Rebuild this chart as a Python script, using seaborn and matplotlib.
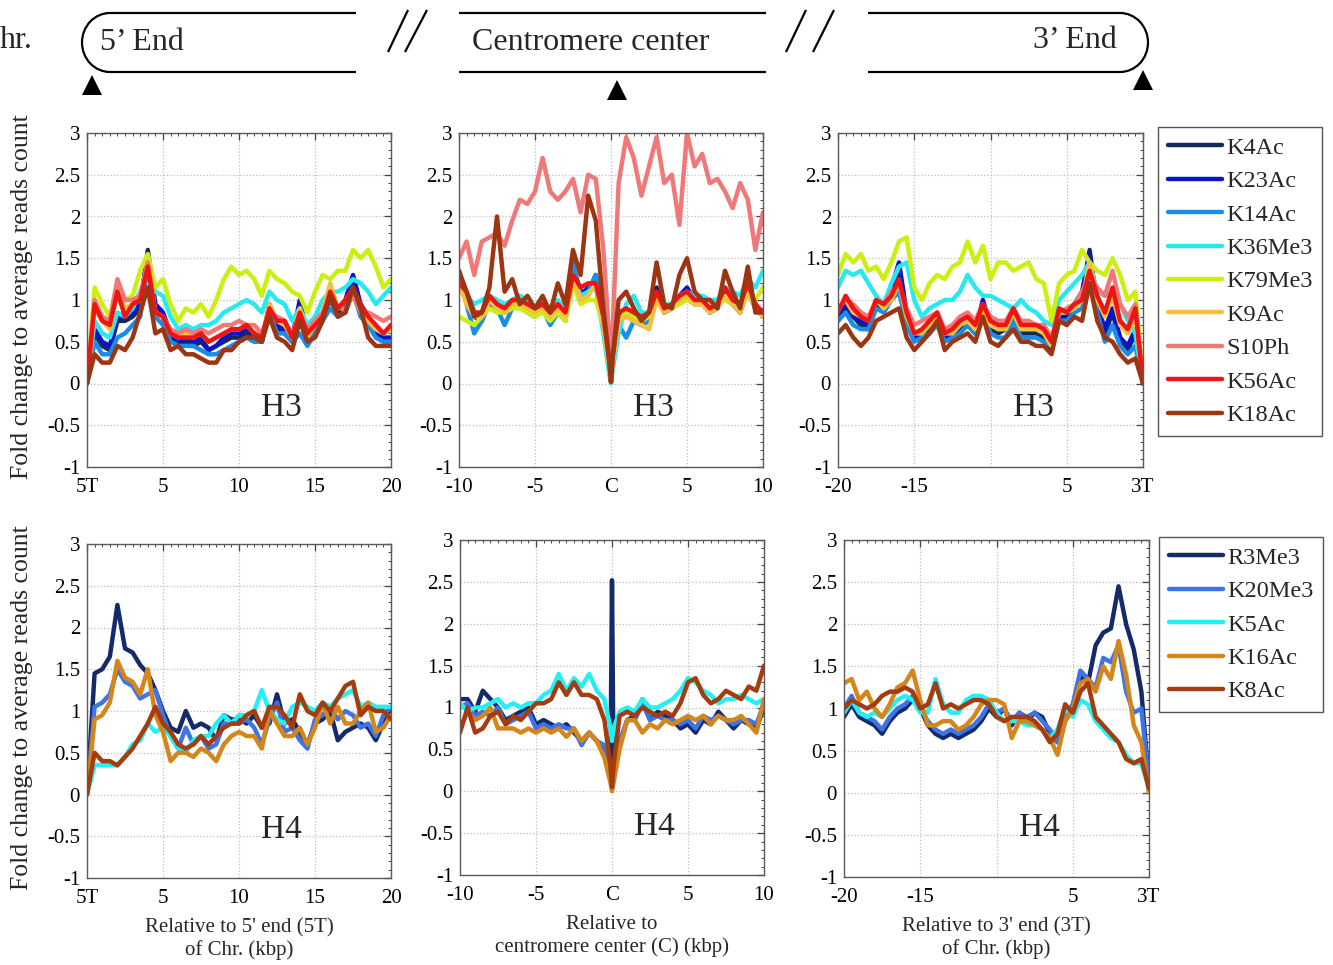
import numpy as np
import pandas as pd
import matplotlib
matplotlib.use("Agg")
import matplotlib.pyplot as plt
import seaborn as sns
from matplotlib.lines import Line2D
from matplotlib.patches import Arc
from matplotlib.ticker import MultipleLocator, FixedLocator, FuncFormatter

# ---------------------------------------------------------------------------
# Genomic positions (kbp) of the profile bins in each region
# ---------------------------------------------------------------------------
pos_5t = [0, 0.5, 1, 1.5, 2, 2.5, 3, 3.5, 4, 4.5, 5, 5.5, 6, 6.5, 7, 7.5, 8, 8.5, 9, 9.5,
          10, 10.5, 11, 11.5, 12, 12.5, 13, 13.5, 14, 14.5, 15, 15.5, 16, 16.5, 17, 17.5,
          18, 18.5, 19, 19.5, 20]
pos_cen = [-10, -9.5, -9, -8.5, -8, -7.5, -7, -6.5, -6, -5.5, -5, -4.5, -4, -3.5, -3, -2.5,
           -2, -1.5, -1, -0.5, -0.1, 0, 0.1, 0.5, 1, 1.5, 2, 2.5, 3, 3.5, 4, 4.5, 5, 5.5,
           6, 6.5, 7, 7.5, 8, 8.5, 9, 9.5, 10]
pos_3t = [-20, -19.5, -19, -18.5, -18, -17.5, -17, -16.5, -16, -15.5, -15, -14.5, -14, -13.5,
          -13, -12.5, -12, -11.5, -11, -10.5, -10, -9.5, -9, -8.5, -8, -7.5, -7, -6.5, -6,
          -5.5, -5, -4.5, -4, -3.5, -3, -2.5, -2, -1.5, -1, -0.5, 0]

h3_marks = ["K4Ac", "K23Ac", "K14Ac", "K36Me3", "K79Me3", "K9Ac", "S10Ph", "K56Ac", "K18Ac"]
h3_colors = ["#15285a", "#0a14c8", "#1a8ee6", "#28e8f0", "#ccee10",
             "#f4c040", "#f07878", "#ee1414", "#9b3512"]
h4_marks = ["R3Me3", "K20Me3", "K5Ac", "K16Ac", "K8Ac"]
h4_colors = ["#142a6a", "#3f74e6", "#22f0f2", "#d4861a", "#a43c10"]

# ---------------------------------------------------------------------------
# H3 fold change, 5' telomere region
# ---------------------------------------------------------------------------
h3_5t_k4ac = [0.0, 0.6, 0.45, 0.4, 0.75, 0.75, 0.8, 0.9, 1.6, 0.9, 0.8, 0.55, 0.5, 0.5, 0.45, 0.5,
              0.4, 0.45, 0.5, 0.55, 0.55, 0.6, 0.55, 0.5, 0.9, 0.65, 0.6, 0.5, 0.95, 0.5, 0.65,
              0.8, 1.0, 0.85, 0.95, 1.25, 0.9, 0.75, 0.6, 0.5, 0.5]
h3_5t_k23ac = [0.0, 0.65, 0.5, 0.45, 0.8, 0.8, 0.85, 0.95, 1.55, 0.95, 0.85, 0.6, 0.5, 0.55, 0.5,
               0.55, 0.4, 0.45, 0.55, 0.6, 0.6, 0.65, 0.6, 0.5, 0.95, 0.7, 0.65, 0.55, 1.0, 0.55,
               0.7, 0.85, 1.05, 0.9, 1.0, 1.3, 0.95, 0.8, 0.6, 0.55, 0.55]
h3_5t_k14ac = [0.0, 0.5, 0.35, 0.35, 0.55, 0.6, 0.7, 0.8, 1.4, 0.8, 0.7, 0.5, 0.45, 0.45, 0.45,
               0.4, 0.35, 0.35, 0.4, 0.45, 0.5, 0.55, 0.5, 0.5, 0.85, 0.6, 0.6, 0.5, 0.6, 0.45,
               0.6, 0.75, 0.9, 0.8, 0.85, 1.1, 0.8, 0.7, 0.55, 0.5, 0.5]
h3_5t_k36me3 = [0.0, 0.75, 0.6, 0.55, 0.85, 0.8, 0.9, 1.1, 1.35, 1.1, 1.05, 0.8, 0.65, 0.7, 0.65,
                0.7, 0.7, 0.75, 0.85, 0.9, 0.95, 1.0, 0.95, 0.85, 1.1, 1.0, 0.95, 0.75, 0.9, 0.7,
                0.8, 1.0, 1.1, 1.1, 1.15, 1.25, 1.2, 1.1, 0.95, 1.05, 1.15]
h3_5t_k79me3 = [0.0, 1.15, 0.95, 0.8, 1.2, 1.0, 1.05, 1.35, 1.55, 1.15, 1.25, 0.95, 0.75, 0.9,
                0.85, 0.95, 0.8, 1.0, 1.25, 1.4, 1.3, 1.35, 1.25, 1.05, 1.35, 1.25, 1.2, 1.1,
                1.05, 0.85, 1.1, 1.3, 1.25, 1.35, 1.35, 1.6, 1.5, 1.6, 1.4, 1.15, 1.25]
h3_5t_k9ac = [0.0, 0.9, 0.75, 0.65, 1.1, 0.9, 0.95, 1.0, 1.45, 0.85, 0.8, 0.6, 0.55, 0.6, 0.55,
              0.6, 0.5, 0.55, 0.6, 0.65, 0.65, 0.7, 0.6, 0.55, 0.95, 0.75, 0.7, 0.55, 0.9, 0.55,
              0.7, 0.85, 1.2, 0.9, 1.0, 1.1, 0.9, 0.75, 0.65, 0.6, 0.65]
h3_5t_s10ph = [0.0, 1.0, 0.8, 0.75, 1.25, 1.0, 1.0, 1.05, 1.45, 0.85, 0.8, 0.65, 0.6, 0.65, 0.6,
               0.65, 0.6, 0.65, 0.7, 0.7, 0.75, 0.7, 0.7, 0.6, 0.85, 0.8, 0.75, 0.6, 0.8, 0.65,
               0.75, 0.85, 1.0, 0.9, 0.9, 1.05, 0.85, 0.85, 0.8, 0.75, 0.8]
h3_5t_k56ac = [0.0, 0.95, 0.75, 0.7, 1.1, 0.8, 0.95, 1.0, 1.4, 0.85, 0.8, 0.6, 0.55, 0.55, 0.55,
               0.6, 0.5, 0.55, 0.6, 0.65, 0.65, 0.7, 0.6, 0.55, 0.9, 0.75, 0.75, 0.55, 0.85, 0.6,
               0.7, 0.8, 1.1, 0.9, 1.0, 1.15, 0.95, 0.8, 0.7, 0.6, 0.7]
h3_5t_k18ac = [0.0, 0.35, 0.25, 0.25, 0.45, 0.4, 0.55, 0.85, 1.15, 0.6, 0.65, 0.4, 0.45, 0.35,
               0.35, 0.3, 0.25, 0.25, 0.4, 0.4, 0.5, 0.55, 0.55, 0.5, 0.8, 0.55, 0.5, 0.4, 0.75,
               0.5, 0.55, 0.75, 1.05, 0.8, 0.85, 1.15, 0.9, 0.55, 0.45, 0.45, 0.45]

# ---------------------------------------------------------------------------
# H3 fold change, centromere region
# ---------------------------------------------------------------------------
h3_cen_k4ac = [1.3, 1.0, 0.8, 0.75, 1.0, 0.95, 0.85, 0.95, 1.0, 0.9, 0.85, 0.95, 0.75, 0.95,
               0.8, 1.4, 1.1, 1.1, 1.3, 0.7, 0.2, 0.02, 0.25, 0.75, 0.85, 0.75, 0.7, 0.75,
               1.15, 0.85, 0.9, 1.0, 1.1, 0.95, 1.0, 0.85, 0.9, 1.1, 0.95, 0.85, 1.15, 0.9, 0.85]
h3_cen_k23ac = [1.25, 1.05, 0.85, 0.8, 1.05, 0.95, 0.9, 0.9, 0.95, 0.9, 0.85, 0.9, 0.8, 0.9,
                0.85, 1.35, 1.05, 1.15, 1.25, 0.75, 0.2, 0.02, 0.25, 0.8, 0.9, 0.8, 0.75, 0.8,
                1.1, 0.9, 0.95, 1.05, 1.15, 1.0, 1.0, 0.9, 0.95, 1.1, 1.0, 0.9, 1.2, 0.95, 0.8]
h3_cen_k14ac = [1.35, 0.95, 0.6, 0.75, 0.95, 0.9, 0.7, 0.9, 0.95, 0.85, 0.8, 0.9, 0.7, 0.85,
                0.75, 1.45, 1.0, 1.1, 1.3, 0.65, 0.15, 0.02, 0.2, 0.7, 0.55, 0.75, 0.7, 0.75,
                1.05, 0.85, 0.9, 1.0, 1.05, 0.95, 0.95, 0.85, 0.9, 1.05, 0.95, 0.9, 1.1, 0.9, 0.85]
h3_cen_k36me3 = [1.3, 1.05, 0.95, 1.0, 1.05, 1.0, 0.95, 1.0, 1.05, 1.0, 0.9, 1.0, 0.9, 1.0,
                 0.9, 1.3, 1.05, 1.1, 1.15, 0.6, 0.1, 0.0, 0.15, 0.6, 0.95, 1.05, 0.85, 0.85,
                 1.05, 0.95, 0.95, 1.05, 1.1, 1.05, 1.05, 1.0, 1.0, 1.15, 1.1, 1.05, 1.25, 1.15, 1.35]
h3_cen_k79me3 = [0.8, 0.75, 0.7, 0.8, 0.9, 0.85, 0.85, 0.9, 0.9, 0.85, 0.8, 0.85, 0.75, 0.85,
                 0.75, 1.2, 0.95, 1.0, 1.0, 0.7, 0.2, 0.02, 0.25, 0.75, 0.85, 0.8, 0.75, 0.8,
                 1.0, 0.9, 0.9, 0.95, 1.0, 0.95, 0.95, 0.9, 0.95, 1.0, 0.95, 0.95, 1.1, 1.0, 1.15]
h3_cen_k9ac = [1.2, 0.95, 0.8, 0.8, 1.0, 0.9, 0.85, 0.95, 0.95, 0.9, 0.85, 0.9, 0.8, 0.9,
               0.8, 1.3, 1.0, 1.05, 1.2, 0.7, 0.2, 0.02, 0.25, 0.75, 0.8, 0.75, 0.7, 0.65,
               1.0, 0.85, 0.9, 1.0, 1.05, 0.95, 0.95, 0.85, 0.9, 1.05, 0.95, 0.85, 1.1, 0.9, 0.8]
h3_cen_s10ph = [1.5, 1.7, 1.3, 1.7, 1.75, 1.8, 1.65, 1.95, 2.2, 2.15, 2.3, 2.7, 2.3, 2.2,
                2.3, 2.45, 2.05, 2.5, 2.45, 1.6, 0.5, 0.1, 0.6, 2.4, 2.95, 2.7, 2.25, 2.6,
                2.95, 2.4, 2.5, 1.9, 3.0, 2.6, 2.75, 2.4, 2.45, 2.3, 2.1, 2.4, 2.2, 1.6, 2.05]
h3_cen_k56ac = [1.2, 1.1, 0.85, 0.85, 1.05, 0.95, 0.9, 1.0, 1.0, 0.95, 0.9, 0.95, 0.85, 0.95,
                0.85, 1.3, 1.15, 1.2, 1.2, 0.8, 0.25, 0.02, 0.3, 0.85, 0.9, 0.85, 0.8, 0.85,
                1.1, 0.9, 0.95, 1.05, 1.1, 1.0, 1.0, 0.9, 0.95, 1.15, 1.0, 0.95, 1.2, 0.95, 0.85]
h3_cen_k18ac = [1.35, 1.1, 0.8, 0.85, 1.15, 2.0, 1.1, 1.25, 0.95, 1.05, 0.9, 1.05, 0.85, 1.2,
                0.95, 1.6, 1.3, 2.25, 1.95, 0.9, 0.25, 0.02, 0.3, 1.0, 1.1, 0.9, 0.75, 0.85,
                1.45, 0.95, 0.9, 1.3, 1.5, 1.1, 1.0, 1.0, 0.9, 1.35, 1.1, 0.9, 1.4, 0.85, 0.85]

# ---------------------------------------------------------------------------
# H3 fold change, 3' telomere region
# ---------------------------------------------------------------------------
h3_3t_k4ac = [0.75, 0.9, 0.8, 0.7, 0.65, 0.95, 0.9, 1.1, 1.4, 0.8, 0.55, 0.6, 0.65, 0.75, 0.55,
              0.6, 0.65, 0.7, 0.6, 0.95, 0.65, 0.6, 0.65, 0.8, 0.6, 0.6, 0.6, 0.55, 0.4, 0.75,
              0.75, 0.9, 1.05, 1.6, 0.9, 0.6, 0.85, 0.5, 0.4, 0.6, 0.0]
h3_3t_k23ac = [0.8, 0.95, 0.8, 0.75, 0.7, 1.0, 0.95, 1.15, 1.45, 0.85, 0.55, 0.6, 0.7, 0.8, 0.55,
               0.6, 0.7, 0.75, 0.65, 1.0, 0.7, 0.65, 0.65, 0.85, 0.65, 0.65, 0.65, 0.6, 0.45,
               0.8, 0.8, 0.95, 1.1, 1.55, 0.95, 0.65, 0.9, 0.55, 0.45, 0.65, 0.0]
h3_3t_k14ac = [0.75, 0.85, 0.7, 0.65, 0.65, 0.9, 0.85, 1.0, 1.1, 0.7, 0.5, 0.55, 0.6, 0.7, 0.5,
               0.55, 0.6, 0.7, 0.6, 0.85, 0.6, 0.55, 0.55, 0.75, 0.55, 0.55, 0.55, 0.5, 0.45,
               0.75, 0.75, 0.85, 0.9, 1.2, 0.85, 0.5, 0.7, 0.45, 0.35, 0.45, 0.0]
h3_3t_k36me3 = [1.15, 1.35, 1.3, 1.35, 1.2, 1.05, 0.95, 1.2, 1.4, 1.45, 1.0, 0.8, 0.9, 0.95, 1.0,
                1.0, 1.1, 1.3, 1.15, 1.05, 1.05, 1.0, 0.95, 0.9, 1.0, 0.9, 0.85, 0.75, 0.7, 1.0,
                1.1, 1.2, 1.3, 1.45, 1.1, 1.05, 1.1, 0.95, 0.75, 0.6, 0.0]
h3_3t_k79me3 = [1.3, 1.55, 1.45, 1.55, 1.35, 1.4, 1.25, 1.45, 1.7, 1.75, 1.15, 1.0, 1.2, 1.3,
                1.25, 1.4, 1.45, 1.7, 1.45, 1.65, 1.25, 1.45, 1.45, 1.35, 1.4, 1.45, 1.25, 1.2,
                0.75, 1.2, 1.3, 1.35, 1.6, 1.45, 1.35, 1.3, 1.5, 1.3, 1.0, 1.1, 0.0]
h3_3t_k9ac = [0.9, 1.0, 0.85, 0.8, 0.75, 1.0, 0.9, 1.0, 1.2, 0.8, 0.6, 0.6, 0.7, 0.8, 0.6, 0.6,
              0.7, 0.75, 0.65, 0.9, 0.7, 0.65, 0.65, 0.85, 0.65, 0.65, 0.65, 0.6, 0.45, 0.85,
              0.85, 0.9, 1.0, 1.45, 1.0, 0.8, 1.05, 0.7, 0.6, 0.8, 0.0]
h3_3t_s10ph = [0.9, 1.0, 0.95, 0.85, 0.8, 1.0, 0.95, 1.1, 1.2, 0.9, 0.7, 0.75, 0.8, 0.85, 0.65,
               0.7, 0.8, 0.85, 0.75, 0.95, 0.8, 0.75, 0.75, 0.9, 0.75, 0.75, 0.7, 0.7, 0.55,
               0.85, 0.9, 0.95, 1.1, 1.3, 1.15, 1.05, 1.35, 0.95, 0.8, 0.95, 0.0]
h3_3t_k56ac = [0.85, 1.05, 0.9, 0.8, 0.75, 1.0, 0.95, 1.05, 1.25, 0.85, 0.6, 0.65, 0.75, 0.85,
               0.6, 0.65, 0.75, 0.8, 0.7, 0.95, 0.75, 0.7, 0.7, 0.9, 0.7, 0.7, 0.7, 0.65, 0.5,
               0.9, 0.85, 0.95, 1.0, 1.35, 1.05, 0.85, 1.15, 0.75, 0.65, 0.9, 0.0]
h3_3t_k18ac = [0.6, 0.7, 0.55, 0.45, 0.55, 0.75, 0.8, 0.85, 0.9, 0.55, 0.4, 0.5, 0.6, 0.75, 0.4,
               0.5, 0.55, 0.6, 0.5, 0.8, 0.5, 0.45, 0.55, 0.65, 0.5, 0.5, 0.45, 0.45, 0.35,
               0.75, 0.7, 0.8, 0.75, 1.2, 0.75, 0.55, 0.5, 0.35, 0.25, 0.3, 0.0]

# ---------------------------------------------------------------------------
# H4 fold change, 5' telomere region
# ---------------------------------------------------------------------------
h4_5t_r3me3 = [0.0, 1.45, 1.5, 1.65, 2.27, 1.75, 1.7, 1.55, 1.45, 1.25, 1.0, 0.8, 0.75, 1.0,
               0.8, 0.85, 0.8, 0.65, 0.95, 0.9, 0.9, 0.85, 0.95, 0.8, 0.85, 1.2, 0.85, 0.9,
               0.75, 0.6, 0.85, 0.9, 1.0, 0.65, 0.75, 0.8, 0.85, 0.8, 0.65, 0.85, 1.0]
h4_5t_k20me3 = [0.0, 1.05, 1.1, 1.2, 1.5, 1.35, 1.3, 1.15, 1.2, 1.25, 0.95, 0.7, 0.55, 0.8, 0.6,
                0.7, 0.55, 0.6, 0.85, 0.85, 0.85, 0.9, 0.8, 0.6, 0.9, 1.1, 0.75, 0.8, 0.65,
                0.55, 0.9, 0.95, 1.05, 0.9, 1.0, 0.95, 0.8, 0.85, 0.7, 0.95, 1.05]
h4_5t_k5ac = [0.0, 0.35, 0.35, 0.35, 0.35, 0.45, 0.6, 0.65, 0.85, 0.75, 0.8, 0.7, 0.55, 0.5,
              0.65, 0.7, 0.7, 0.85, 0.95, 0.85, 0.95, 0.95, 1.0, 1.25, 1.0, 0.9, 0.85, 1.05,
              1.1, 1.05, 1.0, 1.1, 1.05, 1.15, 1.2, 1.25, 1.05, 1.1, 1.05, 1.05, 1.05]
h4_5t_k16ac = [0.0, 0.9, 0.95, 1.1, 1.6, 1.4, 1.35, 1.2, 1.5, 0.95, 0.75, 0.4, 0.5, 0.5, 0.45,
               0.55, 0.5, 0.4, 0.6, 0.7, 0.75, 0.7, 0.7, 0.55, 1.0, 0.85, 0.7, 0.7, 0.8, 0.6,
               0.8, 1.1, 0.85, 1.05, 0.85, 0.85, 1.0, 1.1, 0.75, 0.8, 0.95]
h4_5t_k8ac = [0.0, 0.5, 0.4, 0.4, 0.35, 0.45, 0.55, 0.7, 0.85, 1.05, 0.85, 0.75, 0.6, 0.55, 0.6,
              0.7, 0.6, 0.7, 0.8, 0.85, 0.85, 0.95, 1.0, 0.8, 1.05, 1.05, 0.95, 0.8, 1.2, 1.0,
              0.95, 1.1, 1.0, 1.15, 1.3, 1.35, 0.95, 1.05, 1.0, 1.0, 0.9]

# ---------------------------------------------------------------------------
# H4 fold change, centromere region
# ---------------------------------------------------------------------------
h4_cen_r3me3 = [1.1, 1.1, 0.95, 1.2, 1.1, 1.0, 0.85, 0.9, 0.95, 1.0, 0.8, 0.85, 0.8, 0.75,
                0.8, 0.7, 0.6, 0.7, 0.6, 0.45, 0.3, 2.52, 0.3, 0.55, 0.85, 0.9, 1.1, 0.85,
                0.95, 0.9, 0.85, 0.75, 0.8, 0.7, 0.85, 0.8, 0.95, 0.85, 0.75, 0.85, 0.8, 0.75, 1.0]
h4_cen_k20me3 = [1.0, 1.05, 0.9, 0.95, 0.9, 1.0, 0.8, 0.85, 0.9, 0.95, 0.75, 0.8, 0.75, 0.8,
                 0.75, 0.75, 0.55, 0.7, 0.6, 0.55, 0.25, 0.2, 0.25, 0.6, 0.85, 0.85, 1.05, 0.85,
                 0.9, 0.85, 0.85, 0.8, 0.85, 0.75, 0.9, 0.85, 0.9, 0.85, 0.8, 0.85, 0.85, 0.8, 1.05]
h4_cen_k5ac = [1.05, 0.95, 1.0, 1.0, 1.05, 1.1, 1.0, 1.05, 1.0, 1.05, 1.05, 1.15, 1.2, 1.4,
               1.2, 1.35, 1.25, 1.4, 1.2, 1.1, 0.75, 0.6, 0.75, 0.95, 1.0, 0.95, 1.1, 1.0,
               1.0, 1.05, 1.1, 1.2, 1.35, 1.3, 1.2, 1.15, 1.05, 1.1, 1.1, 1.15, 1.1, 1.05, 1.1]
h4_cen_k16ac = [0.75, 0.95, 0.85, 0.9, 1.0, 0.75, 0.75, 0.75, 0.7, 0.75, 0.7, 0.75, 0.7, 0.75,
                0.65, 0.75, 0.6, 0.7, 0.6, 0.4, 0.1, 0.0, 0.1, 0.5, 0.85, 0.85, 0.7, 0.8,
                0.75, 0.85, 0.8, 0.85, 0.9, 0.85, 0.9, 0.8, 0.9, 0.85, 0.85, 0.9, 0.8, 0.7, 1.1]
h4_cen_k8ac = [0.7, 1.0, 0.7, 0.75, 0.9, 0.95, 0.8, 0.9, 0.85, 0.95, 1.05, 1.05, 1.1, 1.3,
               1.15, 1.3, 1.15, 1.15, 1.1, 0.85, 0.3, 0.05, 0.3, 0.9, 0.95, 0.9, 1.0, 0.95,
               0.9, 0.95, 0.9, 1.05, 1.3, 1.35, 1.15, 1.05, 1.1, 1.2, 1.15, 1.1, 1.25, 1.2, 1.5]

# ---------------------------------------------------------------------------
# H4 fold change, 3' telomere region
# ---------------------------------------------------------------------------
h4_3t_r3me3 = [0.9, 1.05, 0.9, 0.85, 0.8, 0.7, 0.85, 0.95, 1.0, 1.1, 1.0, 0.8, 0.7, 0.65, 0.7,
               0.65, 0.7, 0.75, 0.85, 1.0, 0.9, 1.0, 0.8, 0.95, 0.85, 0.95, 0.9, 0.7, 0.6, 0.85,
               1.0, 1.4, 1.3, 1.75, 1.9, 1.95, 2.45, 2.0, 1.7, 1.2, 0.1]
h4_3t_k20me3 = [1.0, 1.15, 0.95, 0.9, 0.85, 0.75, 0.9, 1.0, 1.05, 1.15, 1.0, 0.85, 0.75, 0.7,
                0.75, 0.7, 0.75, 0.8, 0.9, 1.05, 0.95, 1.0, 0.85, 0.95, 0.9, 0.95, 0.85, 0.75,
                0.6, 0.9, 1.05, 1.45, 1.35, 1.25, 1.6, 1.55, 1.75, 1.2, 0.95, 1.0, 0.1]
h4_3t_k5ac = [0.95, 1.1, 0.95, 0.9, 0.95, 0.9, 1.0, 1.1, 1.15, 1.1, 0.95, 0.95, 1.35, 1.05, 0.95,
              0.95, 1.1, 1.15, 1.15, 1.1, 0.95, 0.85, 0.85, 0.85, 0.8, 0.8, 0.75, 0.65, 0.75,
              1.0, 0.9, 1.1, 1.05, 0.85, 0.75, 0.65, 0.6, 0.45, 0.35, 0.35, 0.05]
h4_3t_k16ac = [1.3, 1.35, 1.1, 1.2, 1.0, 0.9, 1.05, 1.25, 1.3, 1.45, 1.1, 0.8, 0.8, 0.85, 0.85,
               0.75, 0.8, 0.9, 1.05, 1.1, 1.1, 1.05, 0.65, 0.85, 0.85, 0.8, 0.75, 0.65, 0.45,
               0.85, 1.0, 1.3, 1.35, 1.2, 1.5, 1.35, 1.8, 1.4, 0.8, 0.6, 0.0]
h4_3t_k8ac = [1.0, 1.1, 1.05, 1.0, 1.05, 1.15, 1.2, 1.2, 1.25, 1.2, 1.0, 1.05, 1.3, 1.0, 1.05,
              1.0, 1.05, 1.1, 1.1, 1.05, 0.9, 0.85, 0.9, 0.9, 0.9, 0.85, 0.75, 0.6, 0.7, 1.05,
              0.95, 1.2, 1.3, 0.9, 0.8, 0.7, 0.6, 0.4, 0.35, 0.4, 0.05]

# tick labels of the three regions
ticks_5t = [0, 5, 10, 15, 20]
labels_5t = ["5T", "5", "10", "15", "20"]
ticks_cen = [-10, -5, 0, 5, 10]
labels_cen = ["-10", "-5", "C", "5", "10"]
ticks_3t = [-20, -15, -10, -5, 0]
labels_3t = ["-20", "-15", "", "5", "3T"]


def long_frame(pos, marks, series):
    parts = []
    for mark, vals in zip(marks, series):
        if len(vals) != len(pos):
            raise ValueError(f"{mark}: {len(vals)} values for {len(pos)} positions")
        parts.append(pd.DataFrame({"pos": pos, "fold": vals, "mark": mark}))
    return pd.concat(parts, ignore_index=True)


sns.set_style("white")
plt.rcParams["font.family"] = ["Liberation Serif", "DejaVu Serif"]

W, H = 1333, 965
fig = plt.figure(figsize=(W / 100, H / 100), dpi=100)


def px_axes(x0, y0, x1, y1):
    return fig.add_axes([x0 / W, 1 - y1 / H, (x1 - x0) / W, (y1 - y0) / H])


panels = [
    # (axes box in px, positions, marks, colors, series, xlim, ticks, labels, histone, xlabel)
    ((87, 133, 391, 467), pos_5t, h3_marks, h3_colors,
     [h3_5t_k4ac, h3_5t_k23ac, h3_5t_k14ac, h3_5t_k36me3, h3_5t_k79me3, h3_5t_k9ac,
      h3_5t_s10ph, h3_5t_k56ac, h3_5t_k18ac], (0, 20), ticks_5t, labels_5t, "H3", None),
    ((459, 133, 763, 467), pos_cen, h3_marks, h3_colors,
     [h3_cen_k4ac, h3_cen_k23ac, h3_cen_k14ac, h3_cen_k36me3, h3_cen_k79me3, h3_cen_k9ac,
      h3_cen_s10ph, h3_cen_k56ac, h3_cen_k18ac], (-10, 10), ticks_cen, labels_cen, "H3", None),
    ((838, 133, 1143, 467), pos_3t, h3_marks, h3_colors,
     [h3_3t_k4ac, h3_3t_k23ac, h3_3t_k14ac, h3_3t_k36me3, h3_3t_k79me3, h3_3t_k9ac,
      h3_3t_s10ph, h3_3t_k56ac, h3_3t_k18ac], (-20, 0), ticks_3t, labels_3t, "H3", None),
    ((87, 544, 391, 878), pos_5t, h4_marks, h4_colors,
     [h4_5t_r3me3, h4_5t_k20me3, h4_5t_k5ac, h4_5t_k16ac, h4_5t_k8ac], (0, 20),
     ticks_5t, labels_5t, "H4", "Relative to 5' end (5T)\nof Chr. (kbp)"),
    ((460, 540, 764, 875), pos_cen, h4_marks, h4_colors,
     [h4_cen_r3me3, h4_cen_k20me3, h4_cen_k5ac, h4_cen_k16ac, h4_cen_k8ac], (-10, 10),
     ticks_cen, labels_cen, "H4", "Relative to\ncentromere center (C) (kbp)"),
    ((844, 540, 1149, 877), pos_3t, h4_marks, h4_colors,
     [h4_3t_r3me3, h4_3t_k20me3, h4_3t_k5ac, h4_3t_k16ac, h4_3t_k8ac], (-20, 0),
     ticks_3t, labels_3t, "H4", "Relative to 3' end (3T)\nof Chr. (kbp)"),
]

yticks = [-1, -0.5, 0, 0.5, 1, 1.5, 2, 2.5, 3]
axes = []
for i, (box, pos, marks, colors, series, xlim, ticks, labels, histone, xlabel) in enumerate(panels):
    ax = px_axes(*box)
    df = long_frame(pos, marks, series)
    sns.lineplot(data=df, x="pos", y="fold", hue="mark", hue_order=marks,
                 palette=colors, linewidth=3.2, estimator=None, sort=False,
                 legend=False, ax=ax)
    ax.set_xlim(*xlim)
    ax.set_ylim(-1, 3)
    ax.xaxis.set_major_locator(FixedLocator(ticks))
    ax.set_xticklabels(labels)
    ax.xaxis.set_minor_locator(MultipleLocator(0.5))
    ax.yaxis.set_major_locator(FixedLocator(yticks))
    ax.yaxis.set_major_formatter(FuncFormatter(lambda v, _: f"{v:g}"))
    ax.yaxis.set_minor_locator(MultipleLocator(0.1))
    ax.tick_params(which="both", direction="in", top=True, right=True,
                   colors="#444444", labelcolor="black", labelsize=15)
    ax.tick_params(which="major", length=5, width=0.9)
    ax.tick_params(which="minor", length=2.5, width=0.7)
    ax.tick_params(axis="x", which="major", pad=8)
    ax.tick_params(axis="y", which="major", pad=5)
    ax.grid(True, which="major", linestyle=":", color="#bdbdbd", linewidth=0.9)
    ax.set_axisbelow(True)
    for sp in ax.spines.values():
        sp.set_color("#5a5a5a")
        sp.set_linewidth(1.0)
    ax.set_ylabel("")
    ax.set_xlabel(xlabel if xlabel else "", fontsize=15, labelpad=7, linespacing=1.2)
    ax.text(0.64, 0.176 if histone == "H3" else 0.145, histone, transform=ax.transAxes,
            ha="center", va="center", fontsize=24)
    axes.append(ax)

for ax in (axes[0], axes[3]):
    ax.set_ylabel("Fold change to average reads count", fontsize=18.5, va="center")
    ax.yaxis.set_label_coords(-(87 - 22) / 304, 0.51)

# legends
h3_handles = [Line2D([], [], color=c, lw=3.2) for c in h3_colors]
h4_handles = [Line2D([], [], color=c, lw=3.2) for c in h4_colors]
leg_kw = dict(loc="upper left", fontsize=17.5, frameon=True, fancybox=False,
              edgecolor="#555555", framealpha=1, borderaxespad=0, borderpad=0.4,
              handlelength=2.25, handletextpad=0.15, labelspacing=0.47)
lg1 = fig.legend(h3_handles, h3_marks, bbox_to_anchor=(1158 / W, 1 - 127 / H), **leg_kw)
lg2 = fig.legend(h4_handles, h4_marks, bbox_to_anchor=(1159 / W, 1 - 537 / H), **leg_kw)
for lg in (lg1, lg2):
    lg.get_frame().set_linewidth(1.0)

# chromosome diagram above the panels
top = fig.add_axes([0, 0, 1, 1], zorder=-1)
top.set_xlim(0, W)
top.set_ylim(H, 0)
top.axis("off")
lk = dict(color="black", lw=1.6, solid_capstyle="butt")
top.plot([110, 356], [13, 13], **lk)
top.plot([110, 356], [72, 72], **lk)
top.add_patch(Arc((110, 42.5), 56, 59, theta1=90, theta2=270, color="black", lw=1.6))
top.plot([459, 766], [13, 13], **lk)
top.plot([459, 766], [72, 72], **lk)
top.plot([868, 1120], [13, 13], **lk)
top.plot([868, 1120], [72, 72], **lk)
top.add_patch(Arc((1120, 42.5), 56, 59, theta1=-90, theta2=90, color="black", lw=1.6))
for (xa, xb) in [(388, 408), (405, 427), (786, 806), (813, 834)]:
    top.plot([xa, xb], [52, 10], **lk)
for (tx, ty) in [(92, 85), (617, 90), (1143, 80)]:
    top.plot([tx], [ty], marker="^", ms=14, color="black", mew=0)
top.text(100, 42, "5\u2019 End", fontsize=23, ha="left", va="center")
top.text(591, 42, "Centromere center", fontsize=23, ha="center", va="center")
top.text(1117, 41, "3\u2019 End", fontsize=23, ha="right", va="center")
top.text(0, 40, "hr.", fontsize=23, ha="left", va="center")

fig.savefig("out.png", dpi=100)
